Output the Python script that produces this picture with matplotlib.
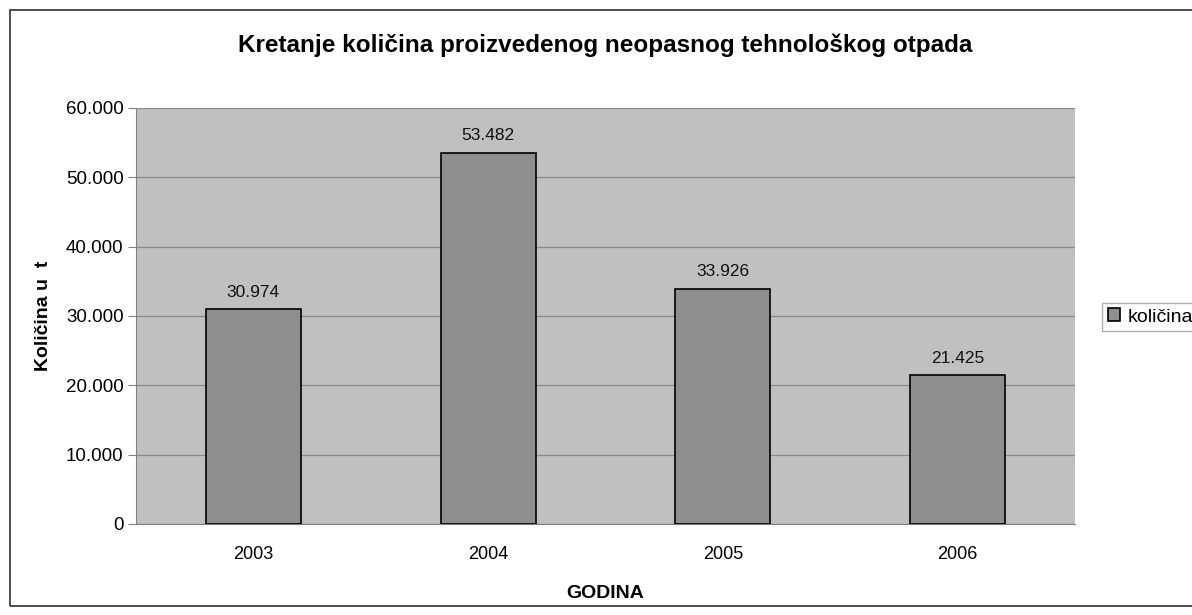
import matplotlib
matplotlib.use("Agg")
import matplotlib.pyplot as plt
from matplotlib.patches import Rectangle
from matplotlib.ticker import FuncFormatter

years = ["2003", "2004", "2005", "2006"]
values = [30974, 53482, 33926, 21425]
labels = ["30.974", "53.482", "33.926", "21.425"]
yticks = [0, 10000, 20000, 30000, 40000, 50000, 60000]

W, H = 1192, 615
fig = plt.figure(figsize=(W/100, H/100), dpi=100)
plt.rcParams['font.family'] = ['Liberation Sans', 'DejaVu Sans']

# outer border
fig.patches.append(Rectangle((10/W, 1-606/H), 1200/W, 596/H, transform=fig.transFigure,
                             fill=False, edgecolor='#303030', linewidth=1.2))

ax = fig.add_axes([136/W, 1-524/H, (1075-136)/W, (524-108)/H])
ax.set_facecolor('#c0c0c0')
x = list(range(len(years)))
bars = ax.bar(x, values, width=0.405, color='#8f8f8f', edgecolor='black', linewidth=1.2,
              label='količina', zorder=3)
for xi, v, l in zip(x, values, labels):
    ax.text(xi, v + 1400, l, ha='center', va='bottom', fontsize=12.5, color='#111111')
ax.set_xlim(-0.5, 3.5)
ax.set_ylim(0, 60000)
ax.set_yticks(yticks)
ax.yaxis.set_major_formatter(FuncFormatter(lambda v, p: f"{int(v):,}".replace(",", ".")))
ax.set_xticks(x)
ax.set_xticklabels(years)
ax.grid(axis='y', color='#8a8a8a', linewidth=0.9, zorder=0)
for s in ['top', 'right']:
    ax.spines[s].set_visible(False)
ax.spines['left'].set_color('#808080')
ax.spines['bottom'].set_color('#808080')
ax.tick_params(axis='y', labelsize=13.5, length=6, color='#808080', pad=3)
ax.tick_params(axis='x', labelsize=13, length=0, pad=16)
ax.set_ylabel('Količina u  t', fontsize=14, fontweight='bold', labelpad=10)
ax.set_xlabel('GODINA', fontsize=14, fontweight='bold', labelpad=16)
fig.text(0.5*(136+1075)/W, 1-45/H, 'Kretanje količina proizvedenog neopasnog tehnološkog otpada',
         ha='center', va='center', fontsize=17.5, fontweight='bold')
leg = fig.legend(handles=[bars], labels=['količina'], loc='center left',
                 bbox_to_anchor=(1102/W, 1-317/H), fontsize=14, frameon=True,
                 fancybox=False, edgecolor='#999999', handlelength=0.6, handleheight=0.6,
                 handletextpad=0.4, borderpad=0.3, borderaxespad=0)
fig.savefig('out.png', dpi=100)
